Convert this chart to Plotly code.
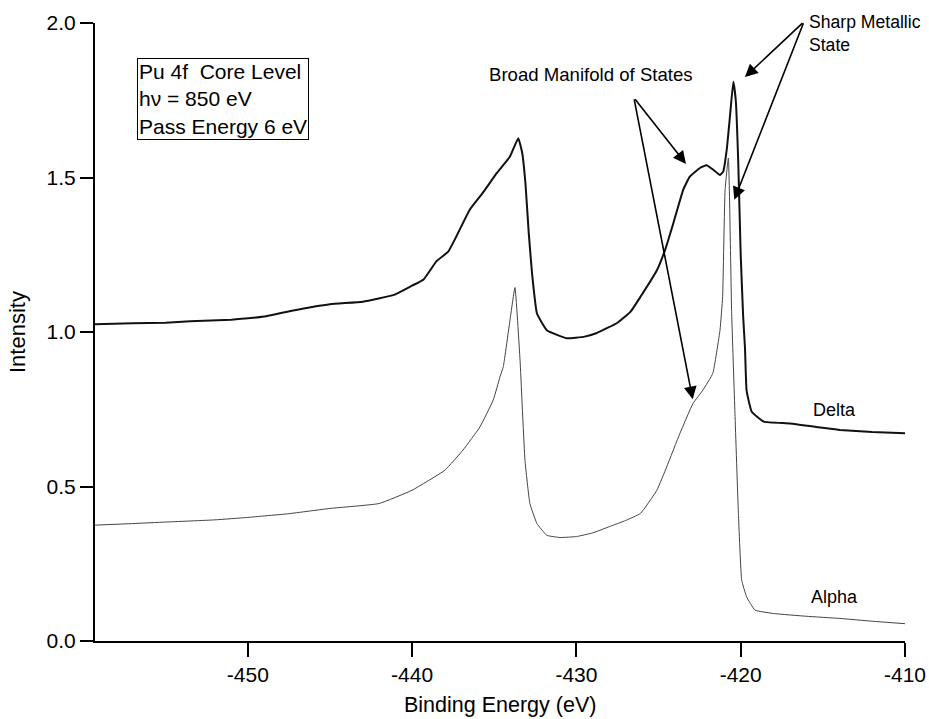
import plotly.graph_objects as go

# ---- data ----
delta_x = [-459.3, -457, -455, -453.5, -451, -449, -447.4, -445, -443, -441.1, -440, -439.3,
           -438.5, -437.8, -437.3, -436.5, -435.7, -434.85, -434.04, -433.54, -433.3, -433.1,
           -432.9, -432.7, -432.4, -431.8, -430.6, -429.5, -428.8, -427.5, -426.7, -426.1,
           -425.1, -424.6, -424.1, -423.5, -423.1, -422.5, -422.07, -421.67, -421.26, -421.06,
           -420.85, -420.65, -420.45, -420.3, -420.15, -420.0, -419.85, -419.74, -419.64,
           -419.33, -418.6, -417.0, -415.0, -413.96, -412.0, -410.0]
delta_y = [1.025, 1.028, 1.03, 1.035, 1.04, 1.05, 1.068, 1.09, 1.098, 1.12, 1.15, 1.17,
           1.23, 1.26, 1.31, 1.395, 1.45, 1.514, 1.568, 1.627, 1.58, 1.48,
           1.32, 1.19, 1.06, 1.006, 0.98, 0.985, 0.996, 1.03, 1.066, 1.114,
           1.2, 1.266, 1.352, 1.46, 1.503, 1.53, 1.54, 1.525, 1.508, 1.52,
           1.59, 1.70, 1.81, 1.75, 1.55, 1.25, 1.05, 0.95, 0.81,
           0.742, 0.71, 0.704, 0.69, 0.683, 0.676, 0.672]

alpha_x = [-459.3, -457, -455, -452, -450, -447.5, -445, -442, -440, -438, -436.9, -435.87,
           -435.06, -434.65, -434.45, -434.04, -433.74, -433.43, -433.13, -432.83, -432.4,
           -431.8, -431.0, -430.0, -429.0, -428.0, -427.0, -426.1, -425.1, -424.5, -423.7,
           -422.9, -422.3, -421.7, -421.26, -421.1, -420.95, -420.75, -420.55, -420.35,
           -420.14, -419.94, -419.64, -419.13, -418.0, -416.0, -413.96, -412.0, -410.0]
alpha_y = [0.375, 0.38, 0.385, 0.392, 0.40, 0.412, 0.429, 0.445, 0.488, 0.553, 0.618, 0.693,
           0.78, 0.855, 0.888, 1.039, 1.144, 0.909, 0.585, 0.445, 0.38,
           0.342, 0.335, 0.338, 0.35, 0.37, 0.39, 0.413, 0.488, 0.564, 0.672,
           0.769, 0.812, 0.866, 1.006, 1.114, 1.46, 1.563, 1.06, 0.737,
           0.413, 0.197, 0.143, 0.10, 0.089, 0.08, 0.073, 0.064, 0.056]

x_ticks = [-450, -440, -430, -420, -410]
y_ticks = [0.0, 0.5, 1.0, 1.5, 2.0]

FONT = "Liberation Sans, Arial, Helvetica, sans-serif"

fig = go.Figure()
fig.add_trace(go.Scatter(x=delta_x, y=delta_y, mode="lines", name="Delta",
                         line=dict(color="#111111", width=2, shape="spline", smoothing=0.35)))
fig.add_trace(go.Scatter(x=alpha_x, y=alpha_y, mode="lines", name="Alpha",
                         line=dict(color="#444444", width=1, shape="spline", smoothing=0.35)))

annotations = [
    # box
    dict(x=-456.74, y=1.888, xref="x", yref="y", xanchor="left", yanchor="top",
         text="Pu 4f\u00a0 Core Level<br>h\u03bd = 850 eV<br>Pass Energy 6 eV",
         align="left", showarrow=False, font=dict(size=21, color="black", family=FONT),
         bordercolor="black", borderwidth=1, borderpad=1, bgcolor="white"),
    # labels
    dict(x=-414.3, y=0.747, xref="x", yref="y", text="Delta", showarrow=False,
         font=dict(size=18, color="black", family=FONT)),
    dict(x=-414.3, y=0.141, xref="x", yref="y", text="Alpha", showarrow=False,
         font=dict(size=18, color="black", family=FONT)),
    dict(x=-429.11, y=1.833, xref="x", yref="y", text="Broad Manifold of States",
         showarrow=False, font=dict(size=18.6, color="black", family=FONT)),
    dict(x=-415.95, y=1.967, xref="x", yref="y", xanchor="left", yanchor="middle",
         text="Sharp Metallic<br>State", align="left", showarrow=False,
         font=dict(size=17.6, color="black", family=FONT)),
    # axis titles
    dict(x=0.5, y=-0.104, xref="paper", yref="paper", text="Binding Energy (eV)",
         showarrow=False, yanchor="middle", font=dict(size=21.5, color="black", family=FONT)),
    dict(x=-0.0963, y=0.5, xref="paper", yref="paper", text="Intensity", textangle=-90,
         showarrow=False, xanchor="center", yanchor="middle",
         font=dict(size=22, color="black", family=FONT)),
]

arrows = [
    ((-426.5, 1.758), (-423.33, 1.544)),
    ((-426.5, 1.758), (-422.92, 0.782)),
    ((-416.15, 2.004), (-419.74, 1.825)),
    ((-416.15, 2.004), (-420.39, 1.428)),
]
for (tx, ty), (hx, hy) in arrows:
    annotations.append(dict(x=hx, y=hy, ax=tx, ay=ty, xref="x", yref="y", axref="x", ayref="y",
                            text="", showarrow=True, arrowhead=2, arrowsize=1.6,
                            arrowwidth=1.6, arrowcolor="black", standoff=0, startstandoff=0))

fig.update_layout(
    width=929, height=719,
    margin=dict(l=95, r=24, t=23, b=78, autoexpand=False),
    paper_bgcolor="white", plot_bgcolor="white",
    showlegend=False,
    font=dict(family=FONT, size=21, color="black"),
    annotations=annotations,
    xaxis=dict(range=[-459.3, -410], tickvals=x_ticks, ticktext=[str(v) for v in x_ticks],
               automargin=False,
               showgrid=False, zeroline=False, showline=True, linecolor="black", linewidth=2,
               ticks="outside", ticklen=14, tickwidth=2, tickcolor="black",
               tickfont=dict(size=21, family=FONT)),
    yaxis=dict(range=[0, 2.0], tickvals=y_ticks, ticktext=[f"{v:.1f}" for v in y_ticks],
               automargin=False,
               showgrid=False, zeroline=False, showline=True, linecolor="black", linewidth=2,
               ticks="outside", ticklen=13, tickwidth=2, tickcolor="black",
               tickfont=dict(size=21, family=FONT)),
)

fig.write_html("out.html")
